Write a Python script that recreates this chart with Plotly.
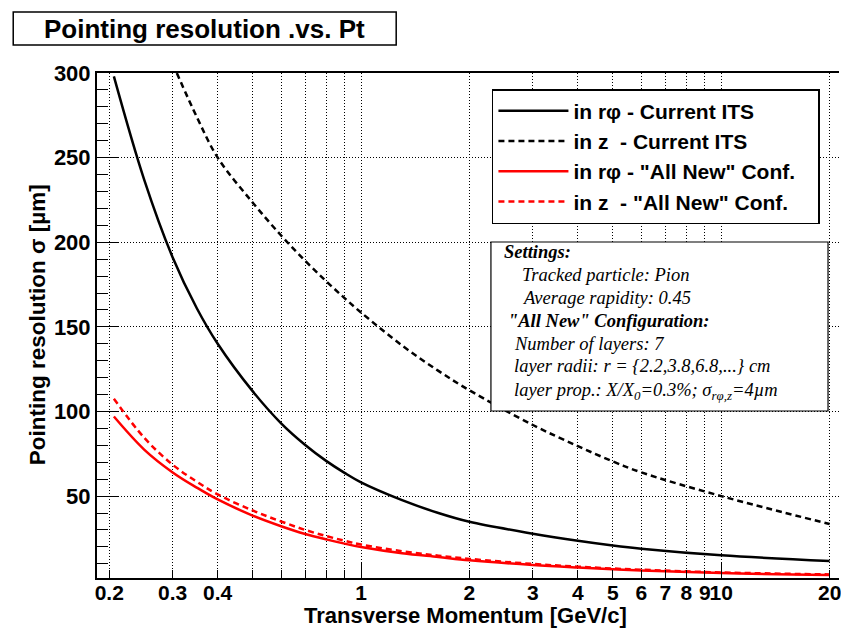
import plotly.graph_objects as go

# ---------------- data ----------------
pt_rphi_its = [0.206, 0.25, 0.3, 0.35, 0.4, 0.5, 0.6, 0.7, 0.8, 0.9, 1.0,
               1.3, 1.64, 2, 3, 4, 5, 6, 10, 20]
res_rphi_its = [298, 237, 191, 161, 140, 112, 93, 80.2, 70.8, 63.7, 58.1,
                47.6, 40, 34.8, 27.8, 23.6, 20.8, 18.9, 15, 11.6]

pt_z_its = [0.308, 0.35, 0.4, 0.5, 0.6, 0.7, 0.8, 0.9, 1.0, 1.3, 1.64, 2, 3, 4, 5, 6, 10, 20]
res_z_its = [300, 274, 250, 223.5, 204, 189, 177, 167, 158.5, 139, 124, 112.5, 92, 79.5, 70.5, 64, 50, 33.5]

pt_new = [0.206, 0.25, 0.3, 0.35, 0.4, 0.5, 0.6, 0.7, 0.8, 0.9, 1.0, 1.3, 1.64, 2, 3, 4, 5, 6, 10, 20]
res_rphi_new = [97, 77.5, 64, 55, 48, 38.5, 32.2, 27.6, 24.4, 21.9, 19.9, 16.2, 14, 12.1, 9.3, 7.8, 6.8, 6.1, 4.5, 3.3]
res_z_new = [107.5, 84.5, 68.5, 58.5, 51, 41.5, 35, 30, 26.4, 23.6, 21.4, 17.4, 14.8, 12.9, 9.9, 8.3, 7.2, 6.5, 4.9, 3.7]

series_names = ["in r\u03c6 - Current ITS", "in z  - Current ITS",
                "in r\u03c6 - \"All New\" Conf.", "in z  - \"All New\" Conf."]

x_tickvals = [0.2, 0.3, 0.4, 1, 2, 3, 4, 5, 6, 7, 8, 9, 10, 20]
x_ticktext = ["0.2", "0.3", "0.4", "1", "2", "3", "4", "5", "6", "7", "8", "9", "10", "20"]
x_minor_vals = [0.5, 0.6, 0.7, 0.8, 0.9]
x_long_ticks = [1, 10]
y_tickvals = [50, 100, 150, 200, 250, 300]

settings_lines = [
    "<b>Settings:</b>",
    "Tracked particle: Pion",
    "Average rapidity: 0.45",
    "<b>\"All New\" Configuration:</b>",
    "Number of layers: 7",
    "layer radii: r = {2.2,3.8,6.8,...} cm",
    "layer prop.: X/X<sub>0</sub>=0.3%; \u03c3<sub>r\u03c6,z</sub>=4\u00b5m",
]

# ---------------- layout geometry ----------------
W, H = 841, 630
PL, PR, PT, PB = 97, 841, 73, 578
PW, PH = PR - PL, PB - PT


def fx(px):
    return (px - PL) / PW


def fy(py):
    return (PB - py) / PH


SANS = "Liberation Sans"
SERIF = "Liberation Serif"
DASH = "6px,4px"
PAD = "\u00a0" * 3

fig = go.Figure()
styles = [
    (pt_rphi_its, res_rphi_its, "black", "solid"),
    (pt_z_its, res_z_its, "black", DASH),
    (pt_new, res_rphi_new, "#ff0000", "solid"),
    (pt_new, res_z_new, "#ff0000", DASH),
]
for i, (xs, ys, col, dash) in enumerate(styles):
    fig.add_trace(go.Scatter(
        x=xs, y=ys, mode="lines", name=series_names[i] + PAD, legendgroup=f"g{i}",
        line=dict(color=col, width=2.5, dash=dash, shape="spline", smoothing=1.0),
        hoverinfo="skip"))

# invisible trace on the overlay axis used for the long ticks at 1 and 10
fig.add_trace(go.Scatter(x=[1], y=[50], xaxis="x2", mode="markers",
                         marker=dict(opacity=0), showlegend=False, hoverinfo="skip"))

xrange = [-0.733, 1.327]
grid = dict(showgrid=True, gridcolor="black", gridwidth=1, griddash="1px,2px")

fig.update_layout(
    width=W, height=H,
    margin=dict(l=PL, r=W - PR, t=PT, b=H - PB),
    paper_bgcolor="white", plot_bgcolor="white",
    font=dict(family=SANS, color="black"),
    showlegend=True,
    xaxis=dict(
        type="log", range=xrange, tickmode="array",
        tickvals=x_tickvals, ticktext=x_ticktext, tickangle=0,
        ticklabeloverflow="allow", ticklabelstandoff=-5,
        ticks="inside", ticklen=8, tickwidth=1, tickcolor="black",
        tickfont=dict(family=SANS, size=21, weight="bold"),
        showline=True, linecolor="black", linewidth=2, mirror=True,
        minor=dict(tickvals=x_minor_vals, ticks="inside", ticklen=8, tickcolor="black",
                   showgrid=True, gridcolor="black", gridwidth=1, griddash="1px,2px"),
        zeroline=False, **grid),
    xaxis2=dict(
        type="log", range=xrange, overlaying="x", anchor="y", side="bottom",
        tickmode="array", tickvals=x_long_ticks, ticks="inside", ticklen=15,
        tickwidth=1, tickcolor="black", showticklabels=False, showgrid=False,
        showline=False, zeroline=False),
    yaxis=dict(
        range=[1.6, 300], tickmode="array", tickvals=y_tickvals,
        ticks="inside", ticklen=22, tickwidth=1, tickcolor="black",
        tickfont=dict(family=SANS, size=22, weight="bold"),
        showline=True, linecolor="black", linewidth=2, mirror=False,
        minor=dict(tick0=0, dtick=10, ticks="inside", ticklen=11, tickcolor="black",
                   showgrid=False),
        zeroline=False, **grid),
    legend=dict(
        x=fx(493), y=fy(89), xanchor="left", yanchor="top",
        bgcolor="white", bordercolor="black", borderwidth=1.5,
        font=dict(family=SANS, size=21, weight="bold", color="black"),
        tracegroupgap=0, itemwidth=70),
)

shapes = []
annotations = []

# title box
shapes.append(dict(type="rect", xref="paper", yref="paper",
                   x0=fx(13), x1=fx(397), y0=fy(45), y1=fy(12),
                   line=dict(color="black", width=1.5), fillcolor="white", layer="above"))
annotations.append(dict(text="<b>Pointing resolution .vs. Pt</b>", xref="paper", yref="paper",
                        x=fx(205), y=fy(29), xanchor="center", yanchor="middle",
                        showarrow=False, font=dict(family=SANS, size=26, color="black")))

# axis titles
annotations.append(dict(text="<b>Transverse Momentum [GeV/c]</b>", xref="paper", yref="paper",
                        x=fx(466), y=fy(629), xanchor="center", yanchor="bottom",
                        showarrow=False, borderpad=0,
                        font=dict(family=SANS, size=22, color="black")))
annotations.append(dict(text="<b>Pointing resolution \u03c3 [\u00b5m]</b>", xref="paper", yref="paper",
                        x=fx(37), y=fy(325), xanchor="center", yanchor="middle", textangle=-90,
                        showarrow=False, font=dict(family=SANS, size=22.5, color="black")))

# settings box
shapes.append(dict(type="rect", xref="paper", yref="paper",
                   x0=fx(492), x1=fx(830), y0=fy(411), y1=fy(242),
                   line=dict(color="black", width=1.2), fillcolor="white", layer="above"))
line_pos = [(503, 252), (521, 275), (521, 298), (507, 321), (513, 344), (513, 366), (513, 391)]
for txt, (px, py) in zip(settings_lines, line_pos):
    annotations.append(dict(text=txt, xref="paper", yref="paper", x=fx(px), y=fy(py),
                            xanchor="left", yanchor="middle", showarrow=False,
                            font=dict(family=SERIF, size=18.5, style="italic", color="black")))

fig.update_layout(shapes=shapes, annotations=annotations)
fig.write_html("out.html")
